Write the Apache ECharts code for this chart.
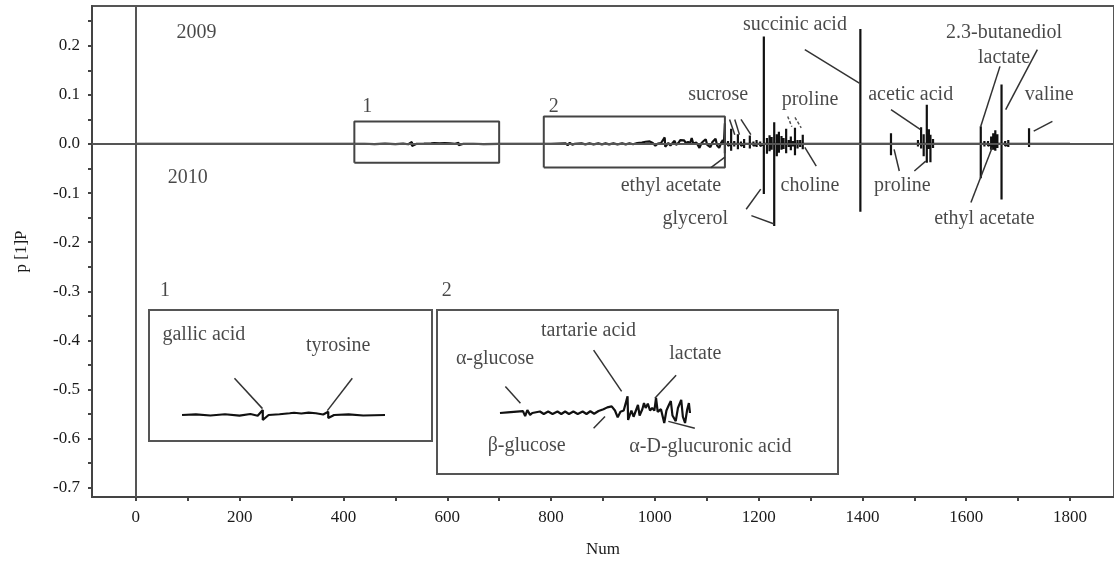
<!DOCTYPE html>
<html>
<head>
<meta charset="utf-8">
<script src="https://cdn.jsdelivr.net/npm/echarts@6/dist/echarts.min.js"></script>
<style>
  html, body { margin: 0; padding: 0; background: #fff; }
  #chart { width: 1114px; height: 563px; }
</style>
</head>
<body>
<div id="chart"></div>
<script>
// axis ticks
const xTicks = [0, 200, 400, 600, 800, 1000, 1200, 1400, 1600, 1800];
const xMinor = [0, 100, 200, 300, 400, 500, 600, 700, 800, 900, 1000, 1100, 1200, 1300, 1400, 1500, 1600, 1700, 1800];
const yTicks = [-0.7, -0.6, -0.5, -0.4, -0.3, -0.2, -0.1, 0, 0.1, 0.2];
const yMinor = [-0.7, -0.65, -0.6, -0.55, -0.5, -0.45, -0.4, -0.35, -0.3, -0.25, -0.2, -0.15, -0.1, -0.05, 0, 0.05, 0.1, 0.15, 0.2, 0.25];

// low-intensity part of the loading spectrum (Num 0 - 1133)
const noiseNum = [
  0, 421, 440, 460, 480, 500, 515, 525, 532, 532, 540, 555, 569, 575, 585, 595, 605, 615, 622, 622, 630, 650, 670, 700,
  786, 800, 828, 832, 836, 841, 845, 859, 866, 874, 882, 891, 898, 905, 912, 920, 928, 937, 944, 951, 958, 966,
  975, 982, 990, 996, 1001, 1006, 1012, 1019, 1020, 1026, 1030, 1038, 1041, 1046, 1049, 1052, 1056, 1060, 1064,
  1068, 1071, 1074, 1080, 1086, 1090, 1094, 1098, 1101, 1107, 1111, 1117, 1120, 1124, 1128, 1131, 1133
];
const noiseLoad = [
  0, 0, 0.0005, -0.0004, 0.0006, -0.0005, 0.0008, -0.0006, 0.004, -0.004, 0, 0.0006, 0.0014, 0.0018, 0.0012, 0.0019, 0.0014, 0.0004, 0.0026, -0.0024, 0, 0.0005, -0.0004, 0,
  0, 0.0005, 0.0015, -0.0025, 0.0024, -0.0015, 0, 0.0012, -0.0008, 0.0012, -0.0008, 0.0012, -0.0008, 0.0012, -0.0008, 0.0012, -0.0008, 0.0012, -0.0008, 0.0014, -0.0006, 0.0016,
  0.003, 0.0045, 0.0053, 0.002, -0.0035, 0.001, 0.002, 0.0133, -0.0055, 0.002, -0.003, 0.0064, -0.002, 0.003, 0.008, 0.004, 0.0075, 0.002, 0.004,
  0.002, 0.012, 0.001, 0.003, -0.008, 0.002, 0.006, 0.0096, -0.002, -0.0065, 0.004, 0.0105, -0.003, -0.008, 0.003, 0.008, 0
];

// resonance peaks (Num 1135 - 1800): position, positive and negative lobe
const peakNum = [
  1135, 1141, 1147, 1153, 1160, 1166, 1172, 1178, 1183, 1190, 1196, 1203, 1210, 1216, 1221, 1225, 1230, 1235, 1239,
  1244, 1248, 1253, 1258, 1262, 1266, 1270, 1275, 1280, 1285, 1292, 1310, 1330, 1350, 1370, 1396, 1420, 1440, 1455,
  1480, 1500, 1507, 1513, 1518, 1524, 1528, 1531, 1536, 1542, 1570, 1600, 1620, 1628, 1635, 1642, 1648, 1652, 1656,
  1660, 1668, 1675, 1681, 1690, 1705, 1721, 1740, 1760, 1800
];
const peakUp = [
  0.042, 0.006, 0.031, 0.006, 0.020, 0.005, 0.010, 0.004, 0.017, 0.005, 0.008, 0.005, 0.219, 0.012, 0.018, 0.014, 0.044, 0.020, 0.025,
  0.016, 0.012, 0.031, 0.008, 0.015, 0.006, 0.033, 0.008, 0.008, 0.019, 0.004, 0.002, 0.002, 0.002, 0.002, 0.234, 0.002, 0.002, 0.022,
  0.002, 0.003, 0.008, 0.034, 0.020, 0.080, 0.030, 0.019, 0.010, 0.004, 0.001, 0.002, 0.004, 0.036, 0.006, 0.006, 0.015, 0.022, 0.028,
  0.020, 0.121, 0.006, 0.008, 0.003, 0.002, 0.032, 0.001, 0.001, 0
];
const peakDown = [
  -0.019, -0.004, -0.014, -0.005, -0.011, -0.004, -0.008, -0.003, -0.009, -0.004, -0.006, -0.004, -0.102, -0.020, -0.015, -0.012, -0.167, -0.025, -0.018,
  -0.012, -0.010, -0.019, -0.006, -0.013, -0.005, -0.023, -0.009, -0.006, -0.011, -0.003, -0.002, -0.002, -0.002, -0.002, -0.138, -0.002, -0.001, -0.023,
  -0.001, -0.002, -0.005, -0.009, -0.025, -0.038, -0.010, -0.037, -0.008, -0.004, -0.001, -0.001, -0.003, -0.070, -0.005, -0.004, -0.012, -0.012, -0.014,
  -0.008, -0.113, -0.004, -0.006, -0.002, -0.001, -0.006, -0.001, -0.001, 0
];

// zoomed regions: [numFrom, numTo, loadLow, loadHigh]
const zoomBox1 = [421, 700, -0.038, 0.046];
const zoomBox2 = [786, 1135, -0.048, 0.056];

// annotations: [text, num, load]
const mainLabels = [
  ['2009', 117, 0.226], ['2010', 100, -0.068],
  ['1', 446, 0.076], ['2', 805, 0.076],
  ['succinic acid', 1270, 0.242], ['2.3-butanediol', 1673, 0.226], ['lactate', 1673, 0.175],
  ['sucrose', 1122, 0.100], ['proline', 1299, 0.090], ['acetic acid', 1493, 0.100], ['valine', 1760, 0.100],
  ['ethyl acetate', 1031, -0.086], ['choline', 1299, -0.086], ['proline', 1477, -0.086],
  ['glycerol', 1078, -0.153], ['ethyl acetate', 1635, -0.153],
  ['1', 56, -0.299], ['2', 599, -0.299],
  ['gallic acid', 131, -0.388], ['tyrosine', 390, -0.411],
  ['α-glucose', 692, -0.437], ['tartarie acid', 872, -0.380], ['lactate', 1078, -0.427],
  ['β-glucose', 753, -0.614], ['α-D-glucuronic acid', 1107, -0.616]
];

// leader lines: [num1, load1, num2, load2]
const leaders = [
  [1289, 0.192, 1394, 0.124],
  [1144, 0.050, 1154, 0.019], [1154, 0.050, 1163, 0.019], [1166, 0.050, 1185, 0.019],
  [1289, -0.007, 1311, -0.045],
  [1176, -0.133, 1204, -0.092], [1186, -0.146, 1230, -0.163],
  [1108, -0.048, 1135, -0.027],
  [1455, 0.070, 1512, 0.029],
  [1461, -0.011, 1471, -0.055], [1500, -0.055, 1522, -0.035],
  [1665, 0.158, 1628, 0.036],
  [1737, 0.192, 1676, 0.070],
  [1766, 0.046, 1730, 0.026],
  [1609, -0.119, 1650, -0.007],
  [190, -0.477, 244, -0.539], [417, -0.477, 369, -0.543],
  [712, -0.494, 741, -0.528], [882, -0.420, 936, -0.504], [1041, -0.471, 1000, -0.518],
  [882, -0.579, 904, -0.555], [1026, -0.565, 1077, -0.579]
];
const dashedLeaders = [
  [1256, 0.056, 1264, 0.035], [1270, 0.054, 1282, 0.033]
];

const spectrum = noiseNum.map((n, i) => [n, noiseLoad[i]]);
peakNum.forEach((n, i) => {
  spectrum.push([n, 0], [n, peakUp[i]], [n, peakDown[i]], [n, 0]);
});
const inRange = (a, b) => spectrum.filter(p => p[0] >= a && p[0] <= b);
const boxPath = b => [[b[0], b[2]], [b[1], b[2]], [b[1], b[3]], [b[0], b[3]], [b[0], b[2]]];

const FONT = 'Liberation Serif';
const INK = '#1a1a1a';

const chart = echarts.init(document.getElementById('chart'));
chart.setOption({
  animation: false,
  backgroundColor: '#fff',
  grid: [
    { left: 92, right: -3, top: 6, bottom: 64, show: true, borderColor: '#555', borderWidth: 2 },
    { left: 149, top: 310, width: 283, height: 131, show: true, borderColor: '#555', borderWidth: 2, z: 5 },
    { left: 437, top: 310, width: 401, height: 164, show: true, borderColor: '#555', borderWidth: 2, z: 5 }
  ],
  xAxis: [
    {
      type: 'value', gridIndex: 0, min: -84.5, max: 1884.7,
      name: 'Num', nameLocation: 'middle', nameGap: 44,
      nameTextStyle: { fontFamily: FONT, fontSize: 17, color: INK },
      axisLine: { show: true, onZero: false, lineStyle: { color: '#444', width: 2 } },
      axisTick: { show: true, customValues: xMinor, length: 4, lineStyle: { color: '#444', width: 2 } },
      axisLabel: {
        customValues: xTicks, margin: 12, fontFamily: FONT, fontSize: 17, color: INK,
        formatter: v => String(v)
      },
      splitLine: { show: false }
    },
    { type: 'value', gridIndex: 1, min: 375.6, max: 764.6, show: false },
    { type: 'value', gridIndex: 2, min: 671, max: 1403.3, show: false }
  ],
  yAxis: [
    {
      type: 'value', gridIndex: 0, min: -0.719, max: 0.281,
      name: 'p [1]P', nameLocation: 'middle', nameGap: 62, nameRotate: 90,
      nameTextStyle: { fontFamily: FONT, fontSize: 17, color: INK },
      axisLine: { show: true, onZero: false, lineStyle: { color: '#444', width: 2 } },
      axisTick: { show: true, customValues: yMinor, length: 4, lineStyle: { color: '#444', width: 2 } },
      axisLabel: {
        customValues: yTicks, margin: 12, fontFamily: FONT, fontSize: 17, color: INK,
        formatter: v => v.toFixed(1)
      },
      splitLine: { show: false }
    },
    { type: 'value', gridIndex: 1, min: -0.0208, max: 0.084, show: false },
    { type: 'value', gridIndex: 2, min: -0.0488, max: 0.0824, show: false }
  ],
  series: [
    // zero lines
    {
      type: 'line', data: [], symbol: 'none',
      markLine: {
        silent: true, symbol: 'none', label: { show: false },
        lineStyle: { color: '#555', width: 2, type: 'solid' },
        data: [{ yAxis: 0 }, { xAxis: 0 }]
      }
    },
    // spectrum
    {
      type: 'line', data: spectrum, symbol: 'none',
      lineStyle: { color: '#111', width: 2.2 }, z: 3
    },
    // zoom boxes on the spectrum
    {
      type: 'line', data: boxPath(zoomBox1), symbol: 'none',
      lineStyle: { color: '#444', width: 2 }, z: 4
    },
    {
      type: 'line', data: boxPath(zoomBox2), symbol: 'none',
      lineStyle: { color: '#444', width: 2 }, z: 4
    },
    // insets
    {
      type: 'line', xAxisIndex: 1, yAxisIndex: 1, data: inRange(zoomBox1[0], zoomBox1[1]),
      symbol: 'none', lineStyle: { color: '#111', width: 2.2 }, z: 6
    },
    {
      type: 'line', xAxisIndex: 2, yAxisIndex: 2, data: inRange(zoomBox2[0], 1133),
      symbol: 'none', lineStyle: { color: '#111', width: 2.2 }, z: 6
    },
    // leaders
    {
      type: 'lines', coordinateSystem: 'cartesian2d', z: 7,
      lineStyle: { color: '#333', width: 1.5, opacity: 1 },
      data: leaders.map(l => ({ coords: [[l[0], l[1]], [l[2], l[3]]] }))
    },
    {
      type: 'lines', coordinateSystem: 'cartesian2d', z: 7,
      lineStyle: { color: '#555', width: 1.5, type: [3, 2], opacity: 1 },
      data: dashedLeaders.map(l => ({ coords: [[l[0], l[1]], [l[2], l[3]]] }))
    },
    // text labels
    {
      type: 'scatter', symbolSize: 0, z: 8,
      data: mainLabels.map(t => ({ name: t[0], value: [t[1], t[2]] })),
      label: {
        show: true, position: 'inside', formatter: p => p.name,
        fontFamily: FONT, fontSize: 20, color: INK
      }
    }
  ]
});
</script>
</body>
</html>
